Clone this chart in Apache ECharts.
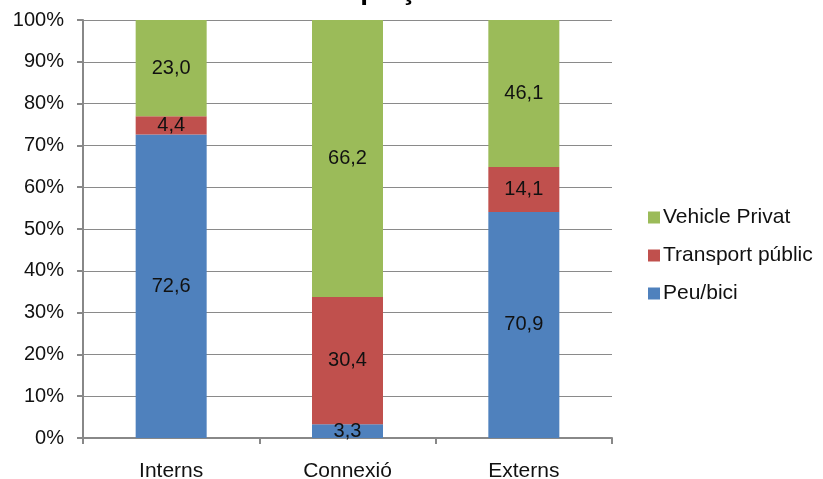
<!DOCTYPE html>
<html>
<head>
<meta charset="utf-8">
<script src="https://cdn.jsdelivr.net/npm/echarts@6/dist/echarts.min.js"></script>
<style>
  html, body { margin: 0; padding: 0; background: #fff; }
  #chart { width: 823px; height: 479px; }
</style>
</head>
<body>
<div id="chart"></div>
<script>
const categories = ['Interns', 'Connexió', 'Externs'];
const peuBici = [72.6, 3.3, 70.9];
const transportPublic = [4.4, 30.4, 14.1];
const vehiclePrivat = [23.0, 66.2, 46.1];
const yTicks = [0, 10, 20, 30, 40, 50, 60, 70, 80, 90, 100];

const chart = echarts.init(document.getElementById('chart'));

// each bar is scaled to 100% of its column total
const totals = categories.map((c, i) => peuBici[i] + transportPublic[i] + vehiclePrivat[i]);
function share(arr) {
  return arr.map((v, i) => ({ value: v / totals[i] * 100, raw: v }));
}

const fmt = v => v.toFixed(1).replace('.', ',');
const labelOpt = {
  show: true,
  position: 'inside',
  color: '#111',
  fontSize: 20,
  fontFamily: 'Liberation Sans',
  formatter: p => fmt(p.data.raw)
};

const option = {
  animation: false,
  textStyle: { fontFamily: 'Liberation Sans' },
  // title is cut off by the top edge in the original
  title: {
    text: 'Desplaçaments',
    left: 'center',
    top: -28,
    textStyle: { fontSize: 28, fontWeight: 'bold', color: '#000' }
  },
  grid: { left: 83, right: 211, top: 20, bottom: 41, outerBoundsMode: 'none' },
  legend: {
    orient: 'vertical',
    left: 643,
    top: 202,
    icon: 'rect',
    itemWidth: 12,
    itemHeight: 12,
    itemGap: 17,
    data: ['Vehicle Privat', 'Transport públic', 'Peu/bici'],
    textStyle: { fontSize: 21, color: '#111', padding: [0, 0, 0, -2] }
  },
  xAxis: {
    type: 'category',
    data: categories,
    axisLine: { lineStyle: { color: '#888', width: 2 } },
    axisTick: { show: true, length: 6, lineStyle: { color: '#888', width: 2 } },
    axisLabel: { fontSize: 21, color: '#111', margin: 23 }
  },
  yAxis: {
    type: 'value',
    min: yTicks[0],
    max: yTicks[yTicks.length - 1],
    interval: 10,
    axisLine: { show: true, lineStyle: { color: '#888', width: 2 } },
    axisTick: { show: true, length: 6, lineStyle: { color: '#888', width: 2 } },
    axisLabel: { fontSize: 20, color: '#111', margin: 19, formatter: '{value}%' },
    splitLine: { lineStyle: { color: '#8a8a8a', width: 1 } }
  },
  series: [
    {
      name: 'Peu/bici', type: 'bar', stack: 'total', barWidth: 71,
      itemStyle: { color: '#4F81BD' }, label: labelOpt,
      data: share(peuBici)
    },
    {
      name: 'Transport públic', type: 'bar', stack: 'total', barWidth: 71,
      itemStyle: { color: '#C0504D' }, label: labelOpt,
      data: share(transportPublic)
    },
    {
      name: 'Vehicle Privat', type: 'bar', stack: 'total', barWidth: 71,
      itemStyle: { color: '#9BBB59' }, label: labelOpt,
      data: share(vehiclePrivat)
    }
  ]
};

chart.setOption(option);
</script>
</body>
</html>
